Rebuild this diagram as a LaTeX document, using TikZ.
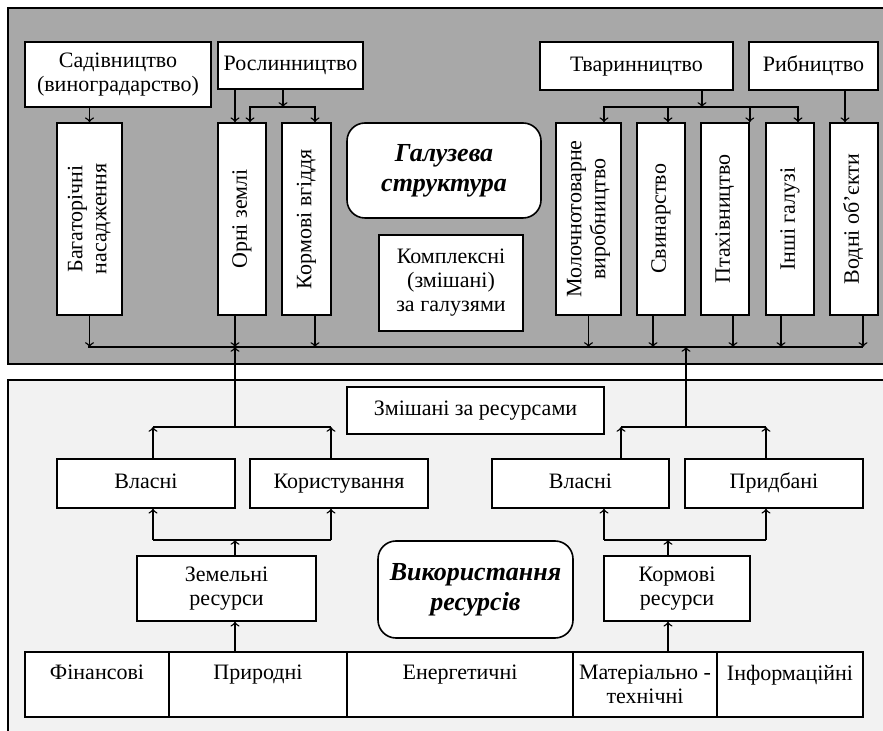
\documentclass[tikz,border=0pt]{standalone}
\usepackage{fontspec}
\setmainfont{Liberation Serif}
\usepackage{graphicx}
\usepackage{tikz}
\usetikzlibrary{positioning}
\usetikzlibrary{arrows}
\definecolor{panelgray}{gray}{0.66}
\definecolor{panellight}{gray}{0.95}
\tikzset{box/.style={draw, fill=white, line width=0.8pt, align=center, inner sep=1pt}}
\tikzset{sbox/.style={box, text height=1.6ex, text depth=0.5ex}}
\tikzset{rbox/.style={box, rounded corners=9pt, font=\fontsize{13}{15}\selectfont\bfseries\itshape}}
\newcommand{\vtext}[1]{\rotatebox{90}{\begin{tabular}{@{}c@{}}#1\end{tabular}}}

\begin{document}
\begin{tikzpicture}[x=0.5pt, y=-0.5pt, font=\fontsize{11}{12}\selectfont, line width=0.7pt]
\useasboundingbox (0,0) rectangle (883,731);
\clip (0,0) rectangle (883,731);
\fill[white] (0,0) rectangle (883,731);
\draw[fill=panelgray, line width=0.8pt] (8,8) rectangle (900,364);
\draw[fill=panellight, line width=0.8pt] (8,380) rectangle (900,750);

% top panel
\node[box, minimum width=93pt, minimum height=32.5pt] (a) at (118,74.5) {Садівництво\\(виноградарство)};
\node[sbox, minimum width=72.5pt, minimum height=23.5pt] (b) at (290.5,65.5) {Рослинництво};
\node[sbox, minimum width=96.5pt, minimum height=24pt] (c) at (636.5,66) {Тваринництво};
\node[sbox, minimum width=64.5pt, minimum height=24pt] (d) at (813.5,66) {Рибництво};

\node[box, minimum width=32.5pt, minimum height=96pt] (e1) at (89.5,219) {\vtext{Багаторічні\\насадження}};
\node[box, minimum width=24pt, minimum height=96pt] (e2) at (242,219) {\vtext{Орні землі}};
\node[box, minimum width=24.5pt, minimum height=96pt] (e3) at (306.5,219) {\vtext{Кормові вгіддя}};
\node[box, minimum width=32.5pt, minimum height=96pt] (e4) at (588.5,219) {\vtext{Молочнотоварне\\виробництво}};
\node[box, minimum width=24pt, minimum height=96pt] (e5) at (661,219) {\vtext{Свинарство}};
\node[box, minimum width=24pt, minimum height=96pt] (e6) at (725,219) {\vtext{Птахівництво}};
\node[box, minimum width=24pt, minimum height=96pt] (e7) at (790,219) {\vtext{Інші галузі}};
\node[box, minimum width=24pt, minimum height=96pt] (e8) at (854,219) {\vtext{Водні об’єкти}};

\node[rbox, minimum width=97pt, minimum height=47.5pt] (j) at (444,170.5) {Галузева\\структура};
\node[box, minimum width=72pt, minimum height=48pt] (i) at (451,283) {Комплексні\\(змішані)\\за галузями};

\draw[->] (e1.north |- a.south) -- (e1.north);
\draw[->] ([xshift=-3.5pt]e2.north |- b.south) -- ([xshift=-3.5pt]e2.north);
\coordinate (r1) at (283,107);
\draw[->] (r1 |- b.south) -- (r1);
\draw[->] (r1) -| ([xshift=4pt]e2.north);
\draw[->] (r1) -| ([xshift=4.25pt]e3.north);
\coordinate (r2) at (702,107);
\draw[->] (r2 |- c.south) -- (r2);
\draw[->] (r2) -| ([xshift=7.75pt]e4.north);
\draw[->] (r2) -| ([xshift=3.5pt]e5.north);
\draw[->] (r2) -| (e6.north east);
\draw[->] (r2) -| ([xshift=4pt]e7.north);
\draw[->] ([xshift=-4.5pt]e8.north |- d.south) -- ([xshift=-4.5pt]e8.north);

% collector line
\coordinate (l1) at (88,347);
\coordinate (l2) at (863,347);
\draw (l1) -- (l2);
\draw[->] (e1.south) -- (e1.south |- l1);
\draw[->] ([xshift=-3.5pt]e2.south) -- ([xshift=-3.5pt]e2.south |- l1);
\draw[->] ([xshift=4.25pt]e3.south) -- ([xshift=4.25pt]e3.south |- l1);
\draw[->] (e4.south) -- (e4.south |- l1);
\draw[->] ([xshift=-4pt]e5.south) -- ([xshift=-4pt]e5.south |- l1);
\draw[->] ([xshift=4pt]e6.south) -- ([xshift=4pt]e6.south |- l1);
\draw[->] ([xshift=-4.5pt]e7.south) -- ([xshift=-4.5pt]e7.south |- l1);
\draw[->] ([xshift=4.5pt]e8.south) -- ([xshift=4.5pt]e8.south |- l1);

% bottom panel
\node[sbox, minimum width=128.5pt, minimum height=23.5pt] (f) at (475.5,410.5) {Змішані за ресурсами};
\node[sbox, minimum width=89pt, minimum height=24.5pt] (g1) at (146,483.5) {Власні};
\node[sbox, minimum width=89pt, minimum height=24.5pt] (g2) at (339,483.5) {Користування};
\node[sbox, minimum width=88.5pt, minimum height=24.5pt] (g3) at (580.5,483.5) {Власні};
\node[sbox, minimum width=89pt, minimum height=24.5pt] (g4) at (774,483.5) {Придбані};
\node[box, minimum width=89.5pt, minimum height=32.5pt] (h1) at (226.5,588.5) {Земельні\\ресурси};
\node[box, minimum width=73pt, minimum height=32.5pt] (h2) at (677,588.5) {Кормові\\ресурси};
\node[rbox, minimum width=97.5pt, minimum height=48.5pt] (k) at (475.5,589.5) {Використання\\ресурсів};

\node[box, minimum width=72pt, minimum height=32.5pt] (n1) at (97,684.5) {Фінансові\\~};
\node[box, minimum width=89pt, minimum height=32.5pt] (n2) at (258,684.5) {Природні\\~};
\node[box, minimum width=113pt, minimum height=32.5pt] (n3) at (460,684.5) {Енергетичні\\~};
\node[box, minimum width=72pt, minimum height=32.5pt] (n4) at (645,684.5) {Матеріально -\\технічні};
\node[box, minimum width=73pt, minimum height=32.5pt] (n5) at (790,684.5) {Інформаційні\\~};

\coordinate (m1) at (235,427);
\coordinate (m2) at (686,427);
\draw[->] (m1) -- (m1 |- l1);
\draw[->] (m2) -- (m2 |- l1);
\draw ([xshift=3.5pt]g1.north |- m1) -- ([xshift=-4pt]g2.north |- m1);
\draw[->] ([xshift=3.5pt]g1.north) -- ([xshift=3.5pt]g1.north |- m1);
\draw[->] ([xshift=-4pt]g2.north) -- ([xshift=-4pt]g2.north |- m1);
\draw ([xshift=20.25pt]g3.north |- m2) -- ([xshift=-4pt]g4.north |- m2);
\draw[->] ([xshift=20.25pt]g3.north) -- ([xshift=20.25pt]g3.north |- m2);
\draw[->] ([xshift=-4pt]g4.north) -- ([xshift=-4pt]g4.north |- m2);

\coordinate (q1) at (235,540);
\coordinate (q2) at (668,540);
\draw[->] (q1 |- h1.north) -- (q1);
\draw ([xshift=3.5pt]g1.south |- q1) -- ([xshift=-4pt]g2.south |- q1);
\draw[->] ([xshift=3.5pt]g1.south |- q1) -- ([xshift=3.5pt]g1.south);
\draw[->] ([xshift=-4pt]g2.south |- q1) -- ([xshift=-4pt]g2.south);
\draw[->] (q1 |- n2.north) -- (q1 |- h1.south);
\draw[->] (q2 |- h2.north) -- (q2);
\draw ([xshift=11.75pt]g3.south |- q2) -- ([xshift=-4pt]g4.south |- q2);
\draw[->] ([xshift=11.75pt]g3.south |- q2) -- ([xshift=11.75pt]g3.south);
\draw[->] ([xshift=-4pt]g4.south |- q2) -- ([xshift=-4pt]g4.south);
\draw[->] (q2 |- n4.north) -- (q2 |- h2.south);
\end{tikzpicture}
\end{document}
